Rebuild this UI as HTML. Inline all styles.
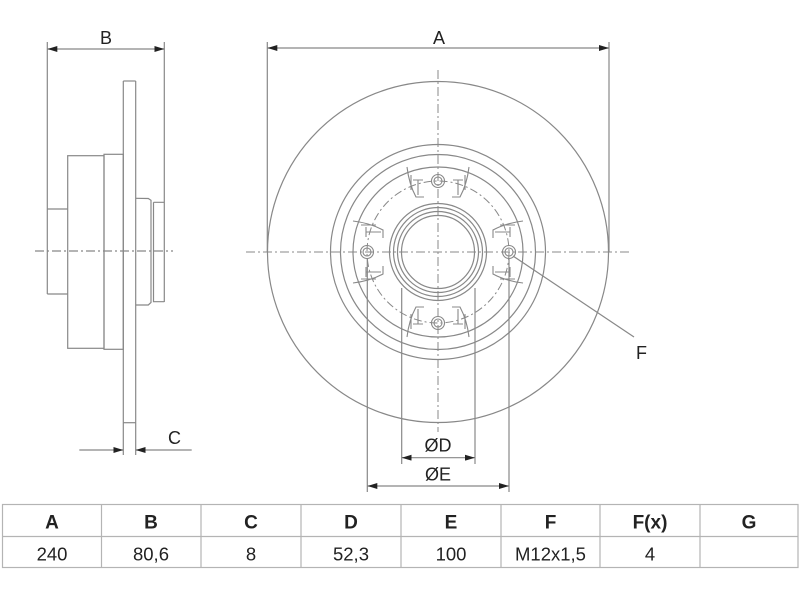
<!DOCTYPE html>
<html><head><meta charset="utf-8"><style>
html,body{margin:0;padding:0;background:#fff;}
svg{display:block;}
</style></head><body>
<svg width="800" height="600" viewBox="0 0 800 600" xmlns="http://www.w3.org/2000/svg">
<defs>
  <marker id="ar" viewBox="0 0 10 6" refX="10" refY="3" markerWidth="10" markerHeight="6" markerUnits="userSpaceOnUse" orient="auto">
    <path d="M0,0 L10,3 L0,6 Z" fill="#222"/>
  </marker>
  <g id="pad" fill="none" stroke="#888" stroke-width="1.1">
    <path d="M-31,-85 Q-29,-68 -22,-55 L-14,-55"/>
    <path d="M31,-85 Q29,-68 22,-55 L14,-55"/>
    <path d="M-25,-72 L-15,-72 M-20,-72 L-20,-57 M-27,-77 L-27,-62"/>
    <path d="M25,-72 L15,-72 M20,-72 L20,-57 M27,-77 L27,-62"/>
    <circle cx="0" cy="-71" r="6.5"/>
    <circle cx="0" cy="-71" r="4"/>
  </g>
</defs>

<g fill="none" stroke="#888" stroke-width="1.2">
  <!-- LEFT SIDE VIEW -->
  <line x1="47.3" y1="42" x2="47.3" y2="294"/>
  <line x1="164.3" y1="42" x2="164.3" y2="302"/>
  <path d="M47.3,209 L67.7,209 M47.3,294 L67.7,294"/>
  <rect x="67.7" y="155.7" width="36.3" height="192.6"/>
  <rect x="104" y="154.3" width="19.3" height="195"/>
  <line x1="123.3" y1="81" x2="123.3" y2="455"/>
  <line x1="135.7" y1="81" x2="135.7" y2="455"/>
  <line x1="123.3" y1="81" x2="135.7" y2="81"/>
  <line x1="123.3" y1="422.7" x2="135.7" y2="422.7"/>
  <path d="M135.7,198.3 L148.3,198.5 L151,200.3 L151,302.5 L148.3,305 L135.7,305"/>
  <path d="M153.5,202.3 L164.3,202.3 M153.5,202.3 L153.5,301.7 L164.3,301.7"/>
  <line x1="35" y1="251" x2="173" y2="251" stroke-dasharray="9 3 2 3"/>

  <!-- DISC -->
  <circle cx="438" cy="252" r="170.5"/>
  <circle cx="438" cy="252" r="107.5"/>
  <circle cx="438" cy="252" r="97.5"/>
  <circle cx="438" cy="252" r="85"/>
  <circle cx="438" cy="252" r="48.5"/>
  <circle cx="438" cy="252" r="44.5"/>
  <circle cx="438" cy="252" r="40.5"/>
  <circle cx="438" cy="252" r="36.5"/>
  <circle cx="438" cy="252" r="71" stroke-dasharray="8 3 2 3" stroke-width="1"/>
  <!-- extension lines A -->
  <line x1="267.3" y1="42" x2="267.3" y2="252"/>
  <line x1="609" y1="42" x2="609" y2="252"/>
  <!-- centre lines -->
  <line x1="246" y1="252" x2="632" y2="252" stroke-dasharray="9 3 2 3" stroke-width="1"/>
  <line x1="438" y1="70" x2="438" y2="432" stroke-dasharray="9 3 2 3" stroke-width="1"/>
  <!-- D / E extension lines -->
  <line x1="367.3" y1="258" x2="367.3" y2="492"/>
  <line x1="509" y1="258" x2="509" y2="492"/>
  <line x1="401.7" y1="288" x2="401.7" y2="464"/>
  <line x1="475" y1="288" x2="475" y2="464"/>
  <!-- F leader -->
  <line x1="513" y1="256" x2="634" y2="337"/>
</g>

<g transform="translate(438,252)">
  <use href="#pad"/>
  <use href="#pad" transform="rotate(90)"/>
  <use href="#pad" transform="rotate(180)"/>
  <use href="#pad" transform="rotate(270)"/>
</g>

<!-- dimension lines -->
<g stroke="#888" stroke-width="1.2" fill="none">
  <line x1="106" y1="49" x2="47.3" y2="49" marker-end="url(#ar)"/>
  <line x1="106" y1="49" x2="164.3" y2="49" marker-end="url(#ar)"/>
  <line x1="438" y1="48" x2="267.3" y2="48" marker-end="url(#ar)"/>
  <line x1="438" y1="48" x2="609" y2="48" marker-end="url(#ar)"/>
  <line x1="79.3" y1="450" x2="123.3" y2="450" marker-end="url(#ar)"/>
  <line x1="191.7" y1="450" x2="135.7" y2="450" marker-end="url(#ar)"/>
  <line x1="438" y1="457.7" x2="401.7" y2="457.7" marker-end="url(#ar)"/>
  <line x1="438" y1="457.7" x2="475" y2="457.7" marker-end="url(#ar)"/>
  <line x1="438" y1="486" x2="367.3" y2="486" marker-end="url(#ar)"/>
  <line x1="438" y1="486" x2="509" y2="486" marker-end="url(#ar)"/>
</g>

<!-- labels -->
<g font-family="'Liberation Sans', sans-serif" font-size="18" fill="#222">
  <text x="106" y="44" text-anchor="middle">B</text>
  <text x="439" y="44" text-anchor="middle">A</text>
  <text x="168" y="444">C</text>
  <text x="636" y="359">F</text>
  <text x="438" y="451.5" text-anchor="middle">ØD</text>
  <text x="438" y="480.5" text-anchor="middle">ØE</text>
</g>

<!-- TABLE -->
<g stroke="#b4b4b4" stroke-width="1.2" fill="none">
  <rect x="2.5" y="504.5" width="795.5" height="63"/>
  <line x1="2.5" y1="536.5" x2="798" y2="536.5"/>
  <line x1="101.5" y1="504.5" x2="101.5" y2="567.5"/>
  <line x1="201" y1="504.5" x2="201" y2="567.5"/>
  <line x1="301" y1="504.5" x2="301" y2="567.5"/>
  <line x1="401" y1="504.5" x2="401" y2="567.5"/>
  <line x1="501" y1="504.5" x2="501" y2="567.5"/>
  <line x1="600" y1="504.5" x2="600" y2="567.5"/>
  <line x1="700" y1="504.5" x2="700" y2="567.5"/>
</g>
<g font-family="'Liberation Sans', sans-serif" fill="#222" text-anchor="middle">
  <g font-size="19" font-weight="bold">
    <text x="52" y="528.3">A</text>
    <text x="151" y="528.3">B</text>
    <text x="251" y="528.3">C</text>
    <text x="351" y="528.3">D</text>
    <text x="451" y="528.3">E</text>
    <text x="550.5" y="528.3">F</text>
    <text x="650" y="528.3">F(x)</text>
    <text x="749" y="528.3">G</text>
  </g>
  <g font-size="18.5">
    <text x="52" y="560.3">240</text>
    <text x="151" y="560.3">80,6</text>
    <text x="251" y="560.3">8</text>
    <text x="351" y="560.3">52,3</text>
    <text x="451" y="560.3">100</text>
    <text x="550.5" y="560.3">M12x1,5</text>
    <text x="650" y="560.3">4</text>
  </g>
</g>
</svg>
</body></html>
